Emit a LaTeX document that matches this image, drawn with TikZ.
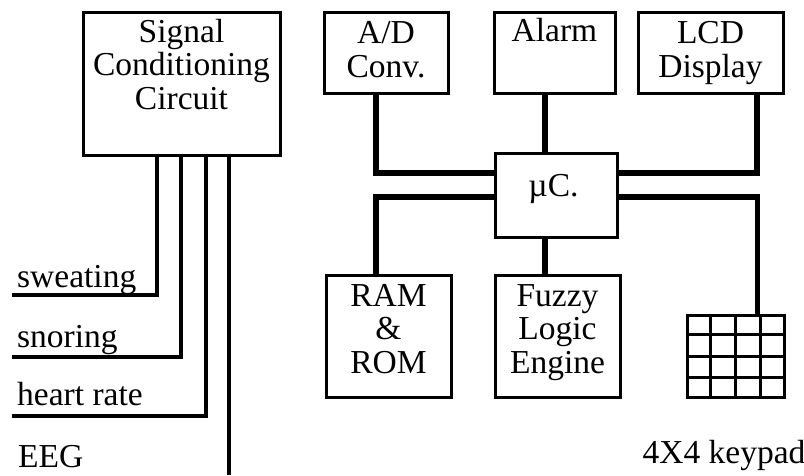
\documentclass[tikz,border=0pt]{standalone}
\usepackage{fontspec}
\setmainfont{Liberation Serif}
\usetikzlibrary{calc}
\begin{document}
\begin{tikzpicture}[x=1pt,y=-1pt,
  box/.style={draw, line width=3pt, inner sep=0pt},
  txt/.style={inner sep=0pt, anchor=base, align=center, font=\fontsize{33.5}{33.5}\selectfont},
  bus/.style={line width=5.5pt},
  wire/.style={line width=4pt},
  gridline/.style={line width=3pt}]
\useasboundingbox (0,0) rectangle (804,475);
% boxes
\node[box, minimum width=197pt, minimum height=143pt] (sig) at (181.5,83.5) {};
\node[box, minimum width=124pt, minimum height=81pt] (ad) at (386,52.5) {};
\node[box, minimum width=121pt, minimum height=81pt] (alarm) at (554.5,52.5) {};
\node[box, minimum width=145pt, minimum height=81pt] (lcd) at (710.5,52.5) {};
\node[box, minimum width=122pt, minimum height=84pt] (uc) at (556,195) {};
\node[box, minimum width=125pt, minimum height=122pt] (ram) at (388.5,336) {};
\node[box, minimum width=125pt, minimum height=122pt] (fuzzy) at (557.5,336) {};
\node[box, minimum width=97pt, minimum height=82pt] (kp) at (735.5,356) {};
% texts (base anchor = baseline of last line)
\node[txt] (tsig) at (181.5,109) {Signal\\Conditioning\\Circuit};
\node[txt] (tad) at (386,77) {A/D\\Conv.};
\node[txt] (talarm) at (554.5,41) {Alarm};
\node[txt] (tlcd) at (710.5,77) {LCD\\Display};
\node[txt] (tuc) at (553.5,196) {µC.};
\node[txt] (tram) at (388.5,373) {RAM\\\&\\ROM};
\node[txt] (tfuzzy) at (557.5,373) {Fuzzy\\Logic\\Engine};
\node[txt, anchor=base west] (tswe) at (17,287) {sweating};
\node[txt, anchor=base west] (tsno) at (17,347) {snoring};
\node[txt, anchor=base west] (thr) at (17,405) {heart rate};
\node[txt, anchor=base west] (teeg) at (18,467) {EEG};
\node[txt] (tkp) at (724,463) {4X4 keypad};
% keypad grid
\foreach \i in {1,2,3} {
  \draw[gridline] ($(kp.south west)!\i/4!(kp.south east)$) -- ($(kp.north west)!\i/4!(kp.north east)$);
  \draw[gridline] ($(kp.south west)!\i/4!(kp.north west)$) -- ($(kp.south east)!\i/4!(kp.north east)$);
}
% bus connectors
\draw[bus] ([xshift=-10pt]ad.south) |- ([yshift=22pt]uc.west);
\draw[bus] ([xshift=-9.5pt]alarm.south) -- ([xshift=-9.5pt]alarm.south |- uc.north);
\draw[bus] ([xshift=46.5pt]lcd.south) |- ([yshift=22pt]uc.east);
\draw[bus] ([yshift=-2pt]uc.west) -| ([xshift=-12.5pt]ram.north);
\draw[bus] ([yshift=-2pt]uc.east) -| ([xshift=22pt]kp.north);
\draw[bus] ([xshift=-11pt]uc.south) -- ([xshift=-11pt]uc.south |- fuzzy.north);
% sensor wires
\coordinate (swe) at (12,295);
\coordinate (sno) at (12,357);
\coordinate (hr) at (12,416);
\coordinate (eeg) at (229,475);
\draw[wire] ([xshift=-24.5pt]sig.south) |- (swe);
\draw[wire] ([xshift=-0.5pt]sig.south) |- (sno);
\draw[wire] ([xshift=24.5pt]sig.south) |- (hr);
\draw[wire] ([xshift=47.5pt]sig.south) -- ([xshift=47.5pt]sig.south |- eeg);
\end{tikzpicture}
\end{document}
